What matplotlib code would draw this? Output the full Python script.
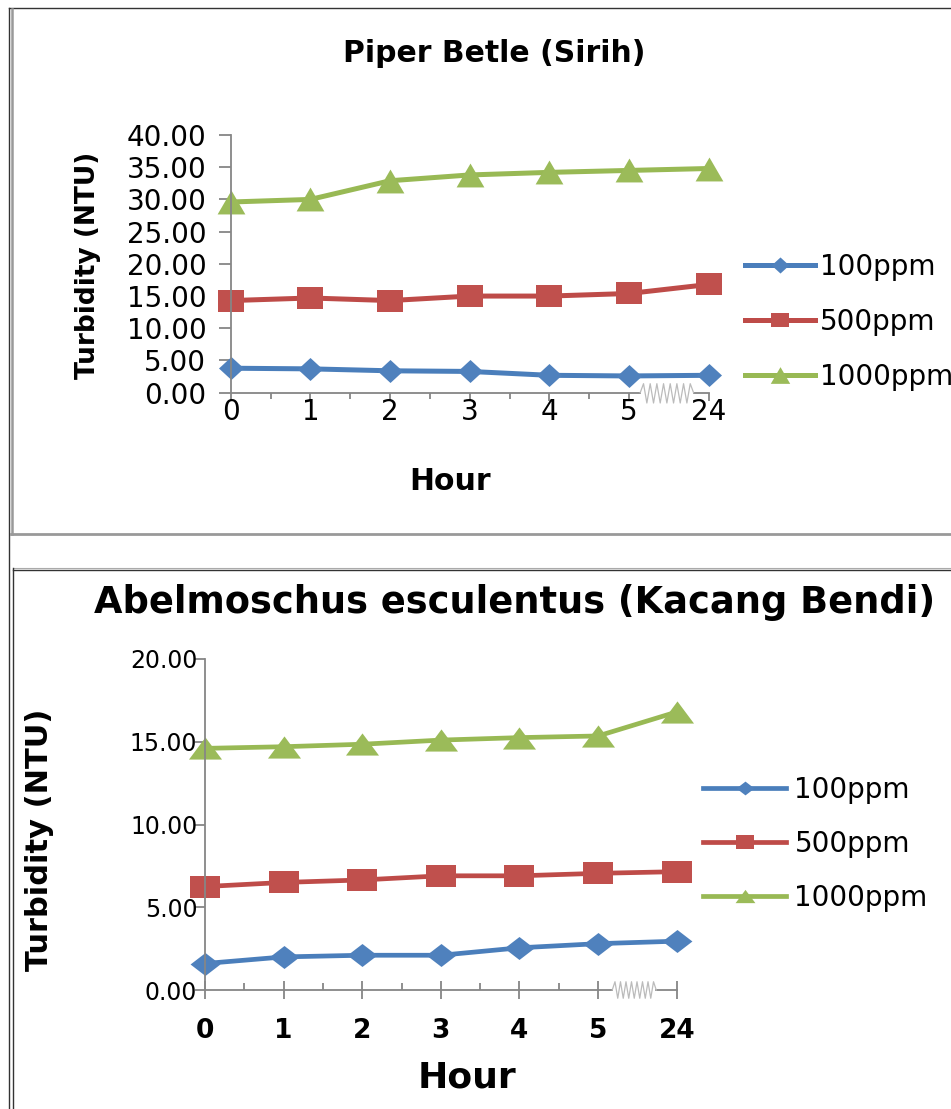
import matplotlib
matplotlib.use("Agg")
import matplotlib.pyplot as plt
from matplotlib.path import Path
from matplotlib.lines import Line2D
from matplotlib.transforms import blended_transform_factory
import numpy as np

# ---------------- data ----------------
hours = ['0', '1', '2', '3', '4', '5', '24']
series_labels = ['100ppm', '500ppm', '1000ppm']

betle_100 = [3.8, 3.7, 3.4, 3.3, 2.7, 2.6, 2.7]
betle_500 = [14.3, 14.7, 14.3, 15.0, 15.0, 15.4, 16.8]
betle_1000 = [29.6, 30.0, 32.9, 33.8, 34.2, 34.5, 34.8]

okra_100 = [1.6, 2.0, 2.1, 2.1, 2.55, 2.8, 2.95]
okra_500 = [6.25, 6.5, 6.65, 6.9, 6.9, 7.05, 7.15]
okra_1000 = [14.6, 14.7, 14.85, 15.1, 15.25, 15.35, 16.8]

top_title = 'Piper Betle (Sirih)'
bottom_title = 'Abelmoschus esculentus (Kacang Bendi)'
ylabel = 'Turbidity (NTU)'
xlabel = 'Hour'

line_colors = ['#4A7EBB', '#BE4B48', '#98B954']
marker_colors = ['#4F81BD', '#C0504D', '#9BBB59']
AXIS_GRAY = '#868686'

W, H = 951, 1109
fig = plt.figure(figsize=(W / 100, H / 100), dpi=100)
plt.rcParams['font.family'] = ['DejaVu Sans']


def fx(px):
    return px / W


def fy(py):
    return 1 - py / H


def diamond(r):
    return Path([(-1, 0), (0, r), (1, 0), (0, -r), (-1, 0)], closed=True)


def square(r):
    return Path([(-1, -r), (1, -r), (1, r), (-1, r), (-1, -r)], closed=True)


def triangle(r):
    return Path([(-1, -r), (1, -r), (0, r), (-1, -r)], closed=True)


def make_chart(ax, ys, ymax, markers, msizes, lw, x0, x1, y0, y1):
    x = np.arange(len(hours))
    for y, lc, mc, mk, ms, lab in zip(ys, line_colors, marker_colors, markers, msizes, series_labels):
        ax.plot(x, y, color=lc, lw=lw, marker=mk, ms=ms, mfc=mc, mec=mc, mew=0,
                label=lab, clip_on=False, solid_joinstyle='round')
    ax.set_xlim(0, len(hours) - 1)
    ax.set_ylim(0, ymax)
    ax.set_yticks(np.arange(0, ymax + 0.1, 5))
    ax.set_yticklabels([f'{v:.2f}' for v in np.arange(0, ymax + 0.1, 5)])
    ax.set_xticks(x)
    ax.set_xticklabels(hours)
    ax.set_xticks(np.arange(0.5, len(hours) - 2, 1), minor=True)
    for s in ['top', 'right', 'bottom']:
        ax.spines[s].set_visible(False)
    ax.spines['left'].set_color(AXIS_GRAY)
    ax.spines['left'].set_linewidth(1.3)
    # broken x axis
    tr = blended_transform_factory(ax.transData, ax.transAxes)
    n = len(hours) - 1
    ax.plot([0, n - 1 + x0], [0, 0], color=AXIS_GRAY, lw=1.3, transform=tr, clip_on=False)
    ax.plot([n - 1 + x1, n], [0, 0], color=AXIS_GRAY, lw=1.3, transform=tr, clip_on=False)
    zx = np.linspace(n - 1 + x0, n - 1 + x1, 17)
    zy = np.zeros_like(zx)
    zy[1:-1:2] = y0
    zy[2:-1:2] = y1
    ax.plot(zx, zy, color='#BBBBBB', lw=0.9, transform=tr, clip_on=False)


# ---------------- top chart ----------------
axT = fig.add_axes([fx(230.7), fy(392.7), fx(708.7) - fx(230.7), fy(135) - fy(392.7)])
make_chart(axT, [betle_100, betle_500, betle_1000], 40,
           [diamond(0.92), square(0.82), triangle(0.86)], [18, 18.5, 20], 3.6,
           0.14, 0.81, 0.035, -0.04)
axT.tick_params(axis='y', which='major', direction='out', length=8.6, width=1.3,
                color=AXIS_GRAY, labelsize=20, pad=9)
axT.tick_params(axis='x', which='major', direction='out', length=6, width=1.3,
                color=AXIS_GRAY, labelsize=20, pad=-2.5)
axT.tick_params(axis='x', which='minor', direction='out', length=4.5, width=1.3,
                color=AXIS_GRAY)
axT.set_title(top_title, fontsize=21.5, fontweight='bold', x=0.551, y=1.318, va='center', pad=0)
axT.set_ylabel(ylabel, fontsize=19, fontweight='bold', va='center')
axT.yaxis.set_label_coords(-0.2985, 0.4955)
axT.set_xlabel(xlabel, fontsize=21.5, fontweight='bold', va='center')
axT.xaxis.set_label_coords(0.4588, -0.3465)
legT = axT.legend(loc='center left', bbox_to_anchor=(fx(745), fy(322)),
                  bbox_transform=fig.transFigure, frameon=False, fontsize=20,
                  handlelength=2.52, handletextpad=0.18, labelspacing=0.98,
                  borderpad=0, borderaxespad=0, markerscale=0.7)

# ---------------- bottom chart ----------------
axB = fig.add_axes([fx(205), fy(990), fx(676.7) - fx(205), fy(659) - fy(990)])
make_chart(axB, [okra_100, okra_500, okra_1000], 20,
           [diamond(0.77), square(0.73), triangle(0.67)], [21.5, 21.5, 23.8], 3.4,
           0.18, 0.74, 0.025, -0.025)
axB.tick_params(axis='y', which='major', direction='out', length=7, width=1.3,
                color=AXIS_GRAY, labelsize=17, pad=-1.5)
axB.tick_params(axis='x', which='major', direction='inout', length=13, width=1.3,
                color=AXIS_GRAY, labelsize=19, pad=14)
axB.tick_params(axis='x', which='minor', direction='in', length=5, width=1.3,
                color=AXIS_GRAY)
for lbl in axB.get_xticklabels():
    lbl.set_fontweight('bold')
axB.set_title(bottom_title, fontsize=26.5, fontweight='bold', x=0.657, y=1.172, va='center', pad=0)
axB.set_ylabel(ylabel, fontsize=22, fontweight='bold', va='center')
axB.yaxis.set_label_coords(-0.350, 0.453)
axB.set_xlabel(xlabel, fontsize=26, fontweight='bold', va='center')
axB.xaxis.set_label_coords(0.555, -0.263)
legB = axB.legend(loc='center left', bbox_to_anchor=(fx(703), fy(844)),
                  bbox_transform=fig.transFigure, frameon=False, fontsize=20,
                  handlelength=3.0, handletextpad=0.29, labelspacing=0.93,
                  borderpad=0, borderaxespad=0, markerscale=0.6)

# ---------------- frame lines (document table borders) ----------------
def hline(y, x0, x1, color, lw):
    fig.add_artist(Line2D([fx(x0), fx(x1)], [fy(y), fy(y)], color=color, lw=lw,
                          transform=fig.transFigure))


def vline(x, y0, y1, color, lw):
    fig.add_artist(Line2D([fx(x), fx(x)], [fy(y0), fy(y1)], color=color, lw=lw,
                          transform=fig.transFigure))


vline(9, 8, H, '#333333', 1.0)
hline(8, 9, W, '#333333', 1.0)
vline(11.5, 9, 534, '#999999', 1.8)
hline(534, 11, W, '#999999', 2.0)
hline(568, 13, W, '#AAAAAA', 0.8)
hline(569.5, 13, W, '#333333', 1.0)
vline(13, 568, H, '#333333', 1.0)

fig.savefig('out.png', dpi=100)
